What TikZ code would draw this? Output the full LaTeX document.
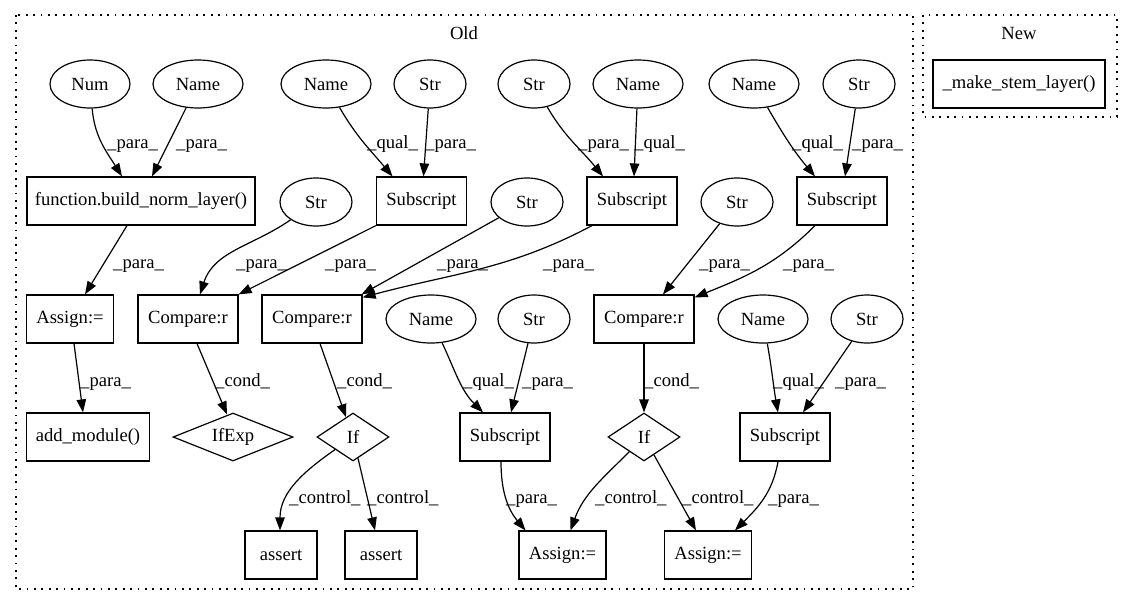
\documentclass[tikz,border=0pt]{standalone}
\usepackage{fontspec}
\setmainfont{Liberation Serif}
\usetikzlibrary{shapes.geometric,arrows.meta}

\begin{document}
\begin{tikzpicture}[x=1pt,y=1pt,
  every node/.style={font=\fontsize{18.6}{22}\selectfont},
  box/.style={draw, rectangle, line width=1.2pt, minimum height=48pt, inner sep=0pt},
  oval/.style={draw, ellipse, line width=1.2pt, minimum height=48pt, inner sep=0pt},
  dia/.style={draw, diamond, line width=1.2pt, inner sep=0pt, minimum height=48pt},
  lbl/.style={anchor=base west, inner sep=0pt},
  e/.style={line width=1.2pt, -{Triangle[length=13pt,width=9.5pt]}},
  cluster/.style={draw, line width=1.2pt, dash pattern=on 1.8pt off 5.6pt},
]
\useasboundingbox (0,0) rectangle (1132,-606);

% clusters
\draw[cluster] (16,-15) rectangle (913,-589);
\node (oldtitle) at (464,-33) {Old};
\draw[cluster] (923,-15) rectangle (1117,-117);
\node (newtitle) at (1019,-33) {New};

% New
\node[box, minimum width=172pt] (stem) at (1019,-84) {\_make\_stem\_layer()};

% row 1
\node[oval, minimum width=80pt] (num)   at (90,-84)  {Num};
\node[oval, minimum width=90pt] (name1) at (198,-84) {Name};
\node[oval, minimum width=90pt] (name2) at (326,-84) {Name};
\node[oval, minimum width=72pt] (str1)  at (430,-84) {Str};
\node[oval, minimum width=72pt] (str2)  at (534,-84) {Str};
\node[oval, minimum width=90pt] (name3) at (638,-84) {Name};
\node[oval, minimum width=90pt] (name4) at (754,-84) {Name};
\node[oval, minimum width=72pt] (str3)  at (859,-84) {Str};

% row 2
\node[box, minimum width=228pt] (fbnl) at (141,-201) {function.build\_norm\_layer()};
\node[oval, minimum width=72pt] (str4) at (316,-202) {Str};
\node[box, minimum width=90pt] (sub1) at (421.5,-201) {Subscript};
\node[oval, minimum width=72pt] (str5) at (527,-202) {Str};
\node[box, minimum width=90pt] (sub2) at (632,-201) {Subscript};
\node[oval, minimum width=72pt] (str6) at (737,-202) {Str};
\node[box, minimum width=90pt] (sub3) at (842,-201) {Subscript};

% row 3
\node[box, minimum width=87pt]  (asg0)  at (70,-319)  {Assign:=};
\node[box, minimum width=100pt] (cmp1)  at (188,-319) {Compare:r};
\node[box, minimum width=100pt] (cmp2)  at (312,-319) {Compare:r};
\node[oval, minimum width=90pt] (name5) at (431,-319) {Name};
\node[oval, minimum width=72pt] (str7)  at (534,-319) {Str};
\node[box, minimum width=100pt] (cmp3)  at (644,-319) {Compare:r};
\node[oval, minimum width=90pt] (name6) at (763,-319) {Name};
\node[oval, minimum width=72pt] (str8)  at (867,-319) {Str};

% row 4
\node[box, minimum width=123pt] (addm) at (88,-437) {add\_module()};
\node[dia, minimum width=120pt, shape aspect=2.5] (ifexp) at (233,-437) {IfExp};
\node[dia, minimum width=72pt, shape aspect=1.5] (if1) at (353,-437) {If};
\node[box, minimum width=90pt] (sub4) at (505,-437) {Subscript};
\node[dia, minimum width=72pt, shape aspect=1.5] (if2) at (644,-437) {If};
\node[box, minimum width=90pt] (sub5) at (785,-437) {Subscript};

% row 5
\node[box, minimum width=72pt] (assert1) at (281,-555) {assert};
\node[box, minimum width=72pt] (assert2) at (381,-555) {assert};
\node[box, minimum width=87pt] (asg1) at (562.5,-555) {Assign:=};
\node[box, minimum width=87pt] (asg2) at (708,-555) {Assign:=};

% edges row 1 -> row 2
\draw[e] (num) to[out=-85,in=122] ([xshift=-19pt]fbnl.north);
\draw[e] (name1) -- ([xshift=11pt]fbnl.north);
\draw[e] (name2) to[out=-60,in=130] ([xshift=-29pt]sub1.north);
\draw[e] (str1) -- ([xshift=2pt]sub1.north);
\draw[e] (str2) to[out=-60,in=129] ([xshift=-29pt]sub2.north);
\draw[e] (name3) -- ([xshift=2pt]sub2.north);
\draw[e] (name4) to[out=-60,in=130] ([xshift=-27pt]sub3.north);
\draw[e] (str3) -- ([xshift=3pt]sub3.north);

\node[lbl] (l1) at (107,-148) {\_para\_};
\node[lbl] (l2) at (176,-148) {\_para\_};
\node[lbl] (l3) at (367,-148) {\_qual\_};
\node[lbl] (l4) at (425,-148) {\_para\_};
\node[lbl] (l5) at (578,-148) {\_para\_};
\node[lbl] (l6) at (634,-148) {\_qual\_};
\node[lbl] (l7) at (792,-148) {\_qual\_};
\node[lbl] (l8) at (852,-148) {\_para\_};

% edges row 2 -> row 3
\draw[e] ([xshift=-14pt]fbnl.south) -- ([xshift=15pt]asg0.north);
\draw[e] (str4) to[out=215,in=72] ([xshift=12pt]cmp1.north);
\draw[e] (sub1.south west) -- (cmp1.north east);
\draw[e] (str5) -- ([xshift=-1pt]cmp2.north east);
\draw[e] ([xshift=-40pt]sub2.south) to[out=208,in=15] ([yshift=-3pt]cmp2.north east);
\draw[e] (str6) -- ([xshift=19pt]cmp3.north);
\draw[e] ([xshift=-27pt]sub3.south) to[out=225,in=22] ([yshift=-3pt]cmp3.north east);

\node[lbl] (l9)  at (113,-268) {\_para\_};
\node[lbl] (l10) at (236,-268) {\_para\_};
\node[lbl] (l11) at (325,-268) {\_para\_};
\node[lbl] (l12) at (437,-268) {\_para\_};
\node[lbl] (l13) at (543,-268) {\_para\_};
\node[lbl] (l14) at (699,-268) {\_para\_};
\node[lbl] (l15) at (783,-268) {\_para\_};

% edges row 3 -> row 4
\draw[e] ([xshift=4pt]asg0.south) -- ([xshift=-5pt]addm.north);
\draw[e] ([xshift=9pt]cmp1.south) -- ([shift={(-6pt,-2pt)}]ifexp.north);
\draw[e] ([xshift=8pt]cmp2.south) -- (if1);
\draw[e] (name5) to[out=-65,in=135] ([xshift=-22pt]sub4.north);
\draw[e] (str7) -- ([xshift=6pt]sub4.north);
\draw[e] (cmp3) -- (if2);
\draw[e] (name6) to[out=-80,in=100] ([xshift=-7pt]sub5.north);
\draw[e] (str8) -- ([xshift=18pt]sub5.north);

\node[lbl] (l16) at (80,-386)  {\_para\_};
\node[lbl] (l17) at (215,-386) {\_cond\_};
\node[lbl] (l18) at (337,-386) {\_cond\_};
\node[lbl] (l19) at (463,-386) {\_qual\_};
\node[lbl] (l20) at (522,-386) {\_para\_};
\node[lbl] (l21) at (644,-386) {\_cond\_};
\node[lbl] (l22) at (773,-386) {\_qual\_};
\node[lbl] (l23) at (835,-386) {\_para\_};

% edges row 4 -> row 5
\draw[e] (if1) to[out=215,in=90] ([xshift=-1pt]assert1.north);
\draw[e] (if1) -- ([xshift=-6pt]assert2.north);
\draw[e] ([xshift=-4pt]sub4.south) to[out=-90,in=130] ([xshift=-37pt]asg1.north);
\draw[e] (if2) to[out=225,in=70] ([xshift=8pt]asg1.north);
\draw[e] (if2) -- ([xshift=-12pt]asg2.north);
\draw[e] ([xshift=-7pt]sub5.south) to[out=-100,in=45] ([xshift=27pt]asg2.north);

\node[lbl] (l24) at (289,-503) {\_control\_};
\node[lbl] (l25) at (367,-503) {\_control\_};
\node[lbl] (l26) at (506,-503) {\_para\_};
\node[lbl] (l27) at (595,-503) {\_control\_};
\node[lbl] (l28) at (682,-503) {\_control\_};
\node[lbl] (l29) at (768,-503) {\_para\_};
\end{tikzpicture}
\end{document}
